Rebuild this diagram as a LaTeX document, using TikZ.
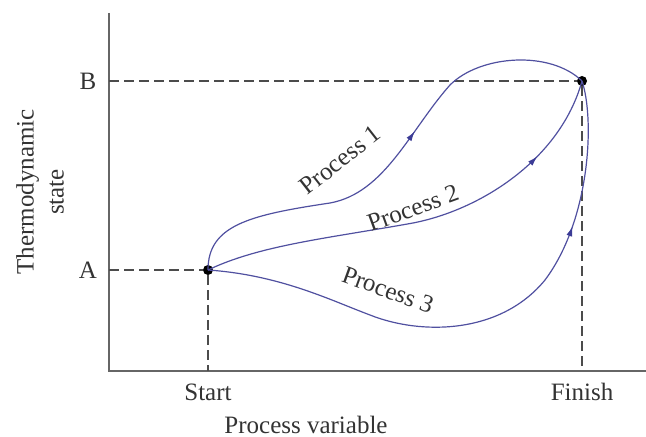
\documentclass[tikz,border=0pt]{standalone}
\usepackage{fontspec}
\setmainfont{Liberation Serif}
\usetikzlibrary{arrows.meta,decorations.markings}
\definecolor{curveblue}{RGB}{80,80,160}
\definecolor{tipblue}{RGB}{60,60,150}

\begin{document}
\begin{tikzpicture}[
    x=0.5pt, y=-0.5pt,
    every node/.style={font=\fontsize{12.5}{15}\selectfont, text=black!80},
    axis/.style={draw=black!60, line width=1.2pt},
    guide/.style={draw=black!70, line width=0.7pt, dash pattern=on 5pt off 2.5pt},
    proc/.style={draw=curveblue, line width=0.6pt,
        postaction={decorate},
        decoration={markings, mark=at position #1 with {\arrow[tipblue]{Latex[length=5pt,width=3pt]}}}},
    dot/.style={circle, fill=black, inner sep=0pt, minimum size=5pt},
]
\useasboundingbox (0,0) rectangle (646,437);

% axes
\coordinate (origin) at (109,371);
\coordinate (ytop)   at (109,13);
\coordinate (xend)   at (646,371);
\draw[axis] (ytop) -- (origin) -- (xend);

% states
\node[dot] (A) at (208,270) {};
\node[dot] (B) at (582,81) {};
\coordinate (yA) at (109,270);
\coordinate (yB) at (109,81);
\coordinate (xA) at (208,371);
\coordinate (xB) at (582,371);

% dashed guides
\draw[guide] (yA) -- (A);
\draw[guide] (A) -- (xA);
\draw[guide] (yB) -- (B);
\draw[guide] (B) -- (xB);

% processes
\draw[proc=0.57] (A.center) .. controls (208,225) and (250,215) .. (330,203)
    .. controls (385,193) and (410,130) .. (450,85)
    .. controls (480,55) and (550,50) .. (B.center);
\draw[proc=0.8] (A.center) .. controls (260,245) and (330,238) .. (413,223)
    .. controls (480,210) and (560,160) .. (B.center);
\draw[proc=0.74] (A.center) .. controls (280,275) and (330,300) .. (370,315)
    .. controls (420,335) and (500,335) .. (545,280)
    .. controls (590,220) and (595,120) .. (B.center);

% labels
\node[rotate=38] (p1) at (340,160) {Process 1};
\node[rotate=20] (p2) at (413,208) {Process 2};
\node[rotate=-20] (p3) at (388,290) {Process 3};

\node (labB) at (88,81) {B};
\node (labA) at (88,270) {A};
\node (start) at (208,392) {Start};
\node (finish) at (582,392) {Finish};
\node (xlabel) at (306,425) {Process variable};
\node[rotate=90, align=center, inner sep=0pt] (ylabel) at (40,192) {Thermodynamic\\state};
\end{tikzpicture}
\end{document}
